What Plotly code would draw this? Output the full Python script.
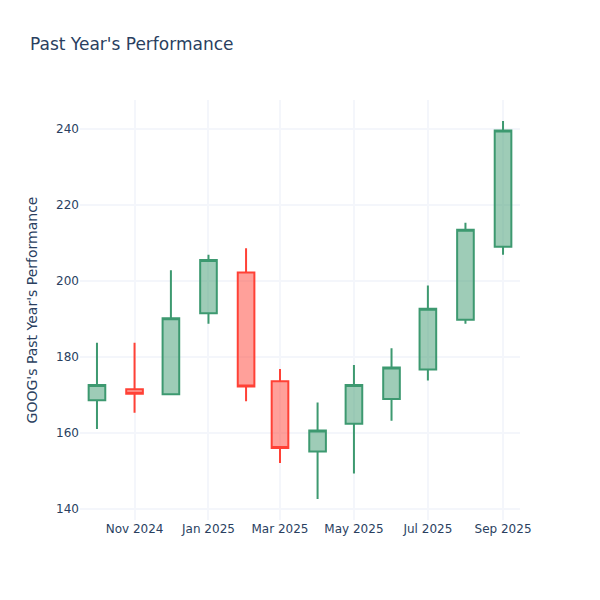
import plotly.graph_objects as go

dates = ["2024-10-01", "2024-11-01", "2024-12-01", "2025-01-01", "2025-02-01", "2025-03-01",
         "2025-04-01", "2025-05-01", "2025-06-01", "2025-07-01", "2025-08-01", "2025-09-01"]
open_ = [168.6, 171.5, 170.2, 191.5, 202.2, 173.6, 155.1, 162.4, 168.9, 176.7, 189.8, 209.0]
high = [183.7, 183.7, 202.8, 206.9, 208.6, 176.8, 168.0, 177.9, 182.3, 198.8, 215.3, 242.1]
low = [161.0, 165.3, 170.1, 188.7, 168.3, 152.1, 142.6, 149.3, 163.2, 173.8, 188.7, 206.9]
close = [172.6, 170.3, 190.2, 205.5, 172.2, 156.0, 160.6, 172.6, 177.2, 192.7, 213.5, 239.6]

fig = go.Figure(go.Candlestick(x=dates, open=open_, high=high, low=low, close=close))
fig.update_layout(
    template="plotly_white",
    title="Past Year's Performance",
    yaxis_title="GOOG's Past Year's Performance",
    xaxis_rangeslider_visible=False,
    font=dict(family="DejaVu Sans"),
    width=600, height=600,
)
fig.update_xaxes(gridcolor="#F4F6FB", gridwidth=2)
fig.update_yaxes(gridcolor="#F4F6FB", gridwidth=2)
fig.write_html("out.html", config={"displayModeBar": False},
               post_script="document.body.style.margin='0';")
